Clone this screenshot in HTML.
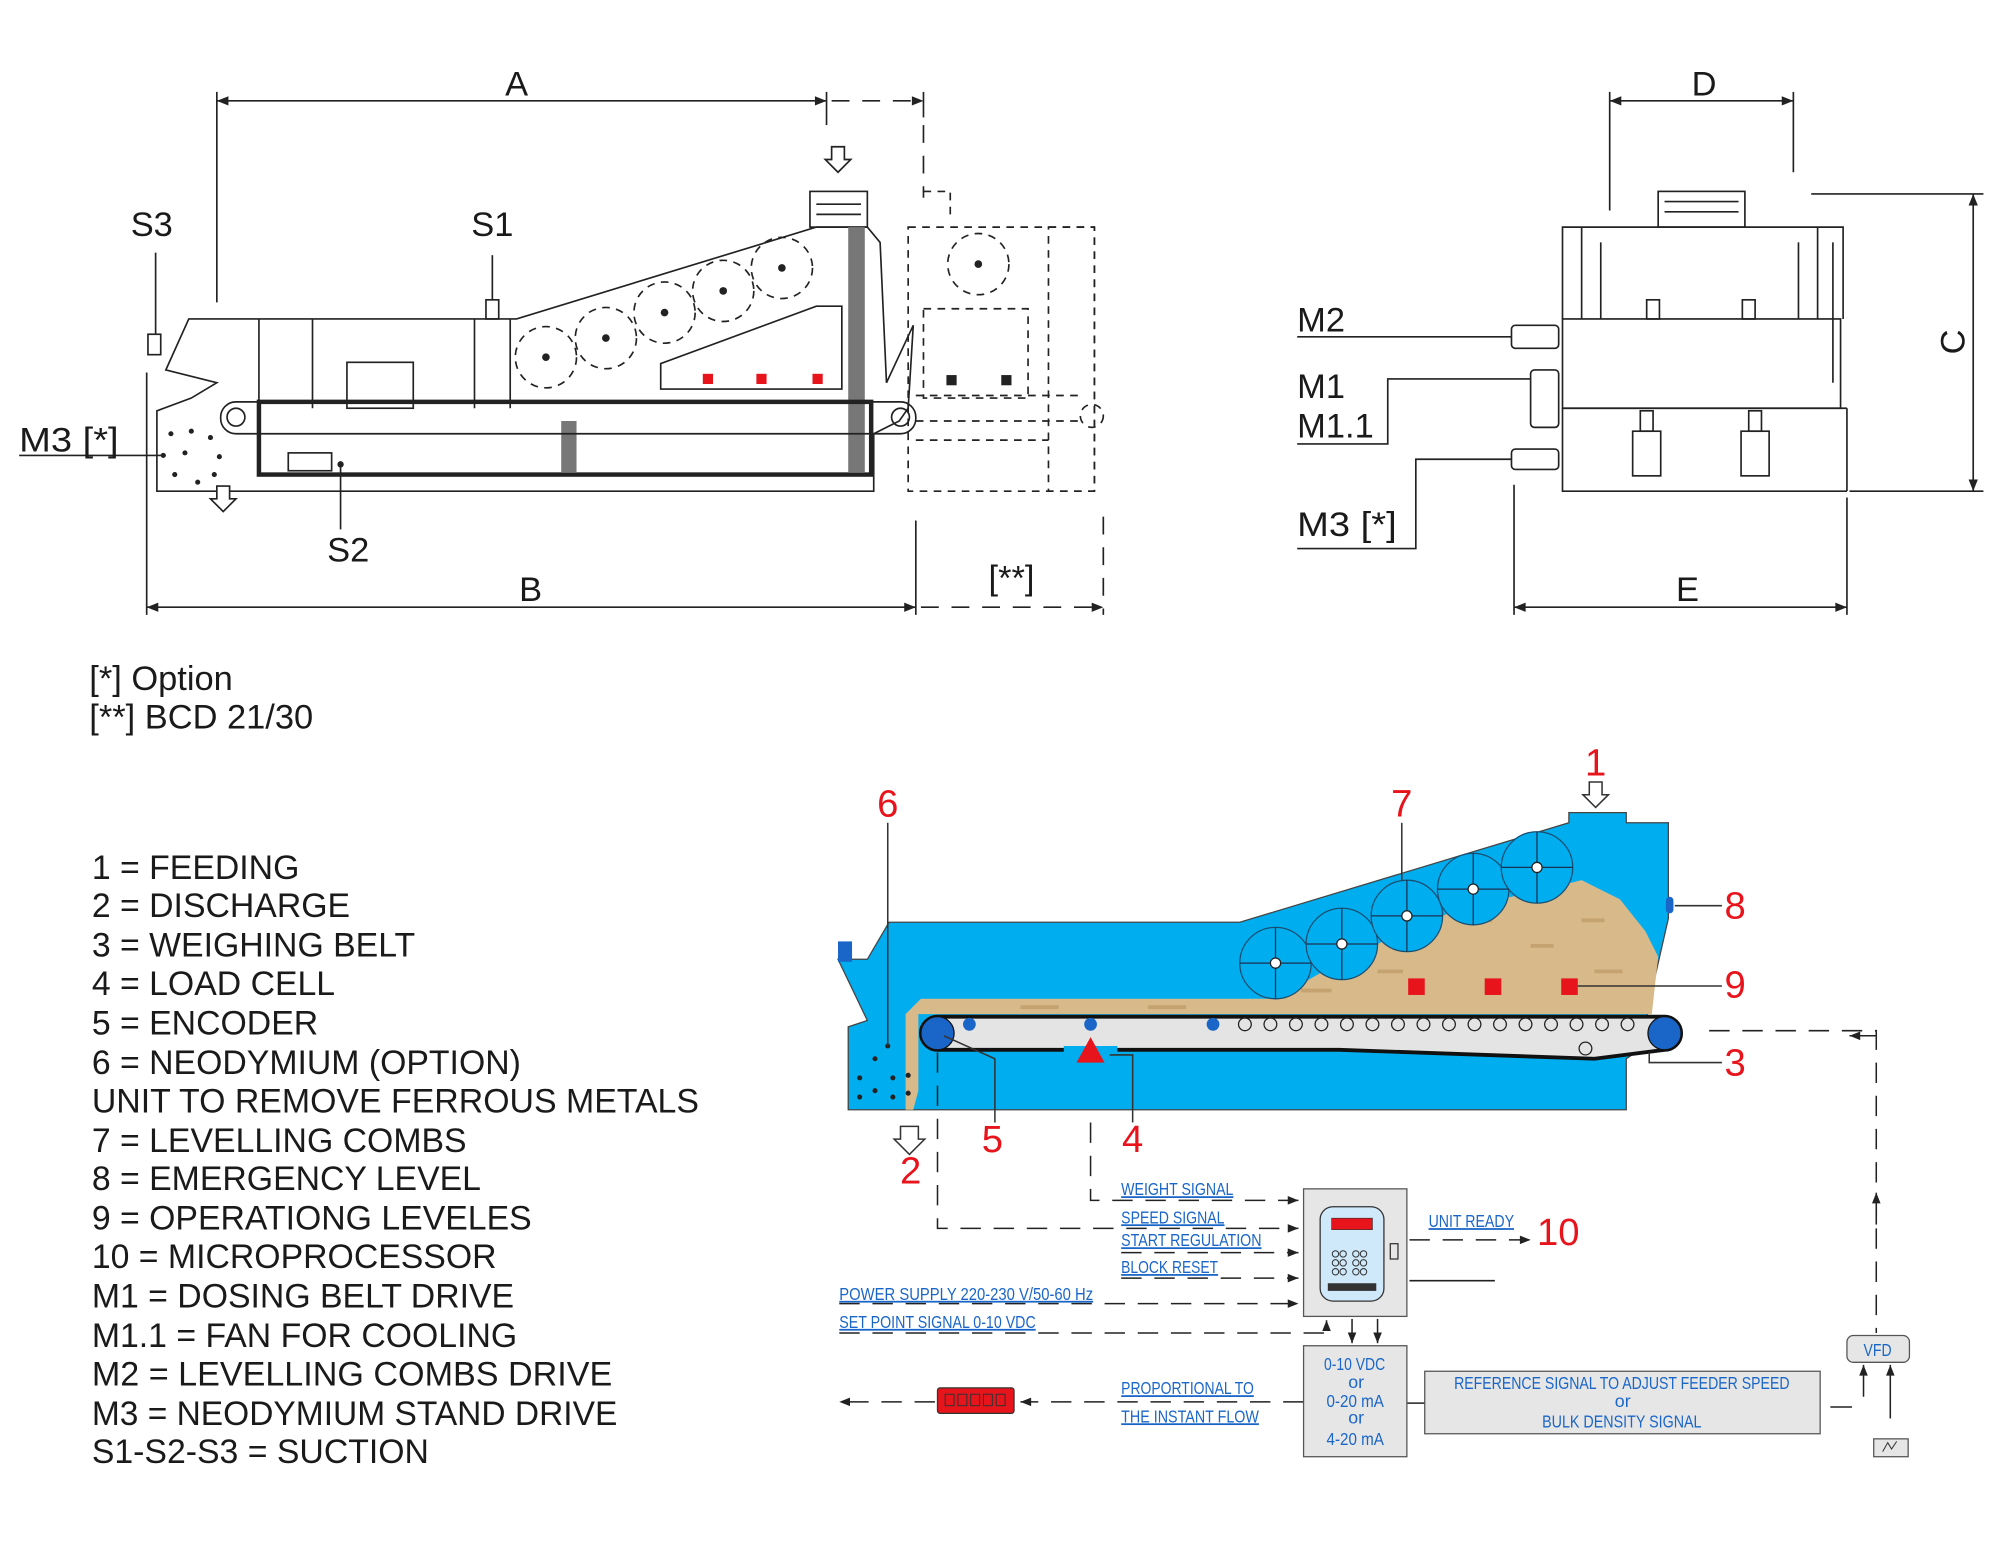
<!DOCTYPE html>
<html><head><meta charset="utf-8"><style>
html,body{margin:0;padding:0;background:#fff}
svg{display:block}
.t{font-family:"Liberation Sans",sans-serif;fill:#1a1a1a}
.b{font-family:"Liberation Sans",sans-serif;fill:#1a66c8;font-size:14px;text-decoration:underline}
.r{font-family:"Liberation Sans",sans-serif;fill:#e8141c;font-size:30px}
</style></head><body>
<svg width="2000" height="1555" viewBox="0 0 1568 1219" xmlns="http://www.w3.org/2000/svg">
<defs>
<marker id="ar" viewBox="0 0 10 10" refX="10" refY="5" markerWidth="9" markerHeight="7" orient="auto-start-reverse"><path d="M0,1 L10,5 L0,9 z" fill="#222"/></marker>
</defs>
<g stroke="#222" stroke-width="1.3" fill="none">
<line x1="170" y1="79" x2="648" y2="79" marker-start="url(#ar)" marker-end="url(#ar)"/>
<line x1="652" y1="79" x2="724" y2="79" stroke-dasharray="14 10" marker-end="url(#ar)"/>
<line x1="170" y1="72" x2="170" y2="237"/>
<line x1="648" y1="72" x2="648" y2="98"/>
<line x1="724" y1="72" x2="724" y2="92"/>
<line x1="724" y1="98" x2="724" y2="155" stroke-dasharray="14 10"/>
<line x1="115" y1="476" x2="718" y2="476" marker-start="url(#ar)" marker-end="url(#ar)"/>
<line x1="722" y1="476" x2="865" y2="476" stroke-dasharray="14 10" marker-end="url(#ar)"/>
<line x1="115" y1="292" x2="115" y2="482"/>
<line x1="718" y1="408" x2="718" y2="482"/>
<line x1="865" y1="405" x2="865" y2="482" stroke-dasharray="14 10"/>
<path d="M123,385 L123,322 L150,312 L170,300 L130,290 L148,250 L405,250 L640,178 L680,178 L690,190 L695,300 L716,255 L712,320 L705,330 L685,340 L685,385 Z"/>
<rect x="635" y="150" width="45" height="28"/>
<path d="M640,160 h35 M640,168 h35"/>
<rect x="665" y="178" width="13" height="192" fill="#777" stroke="none"/>
<rect x="440" y="330" width="12" height="40" fill="#777" stroke="none"/>
<rect x="173" y="315" width="545" height="25" rx="12"/>
<circle cx="185" cy="327" r="7"/><circle cx="706" cy="327" r="7"/>
<rect x="203" y="315" width="480" height="57" stroke-width="3.5"/>
<path d="M203,250 V320 M245,250 V320 M372,250 V320 M400,250 V320"/>
<rect x="272" y="284" width="52" height="36"/>
<rect x="226" y="355" width="34" height="14"/>
<path d="M518,305 L518,285 L640,240 L660,240 L660,305 Z"/>
<line x1="386" y1="200" x2="386" y2="235"/><rect x="381" y="235" width="10" height="15"/>
<line x1="122" y1="198" x2="122" y2="262"/><rect x="116" y="262" width="10" height="16"/>
<g stroke-dasharray="6 5">
<circle cx="428" cy="280" r="24"/><circle cx="475" cy="265" r="24"/><circle cx="521" cy="245" r="24"/><circle cx="567" cy="228" r="24"/><circle cx="613" cy="210" r="24"/>
<circle cx="767" cy="207" r="24"/>
<rect x="712" y="178" width="146" height="207"/>
<rect x="822" y="178" width="36" height="207"/>
<rect x="724" y="242" width="82" height="70"/>
<path d="M718,310 H850 M718,330 H850 M718,345 H822"/>
<circle cx="856" cy="326" r="9"/>
<path d="M724,150 H745 V170"/>
</g>
<g fill="#222" stroke="none">
<circle cx="428" cy="280" r="3"/><circle cx="475" cy="265" r="3"/><circle cx="521" cy="245" r="3"/><circle cx="567" cy="228" r="3"/><circle cx="613" cy="210" r="3"/><circle cx="767" cy="207" r="3"/>
<circle cx="134" cy="340" r="2"/><circle cx="150" cy="338" r="2"/><circle cx="165" cy="343" r="2"/><circle cx="128" cy="357" r="2"/><circle cx="145" cy="355" r="2"/><circle cx="172" cy="358" r="2"/><circle cx="137" cy="372" r="2"/><circle cx="155" cy="378" r="2"/><circle cx="168" cy="372" r="2"/>
<rect x="742" y="294" width="8" height="8"/><rect x="785" y="294" width="8" height="8"/>
<circle cx="267" cy="364" r="2.5"/>
</g>
<g fill="#e8141c" stroke="none"><rect x="551" y="293" width="8" height="8"/><rect x="593" y="293" width="8" height="8"/><rect x="637" y="293" width="8" height="8"/></g>
<path d="M15,357 H130"/><path d="M267,364 V415"/>
<path d="M170,391 v-10 h10 v10 h5 l-10,10 l-10,-10 z" fill="#fff"/>
<path d="M652,125 v-10 h10 v10 h5 l-10,10 l-10,-10 z" fill="#fff"/>
<line x1="1262" y1="79" x2="1406" y2="79" marker-start="url(#ar)" marker-end="url(#ar)"/>
<line x1="1262" y1="72" x2="1262" y2="165"/><line x1="1406" y1="72" x2="1406" y2="135"/>
<line x1="1547" y1="152" x2="1547" y2="385" marker-start="url(#ar)" marker-end="url(#ar)"/>
<line x1="1420" y1="152" x2="1555" y2="152"/><line x1="1450" y1="385" x2="1555" y2="385"/>
<line x1="1187" y1="476" x2="1448" y2="476" marker-start="url(#ar)" marker-end="url(#ar)"/>
<line x1="1187" y1="380" x2="1187" y2="482"/><line x1="1448" y1="390" x2="1448" y2="482"/>
<path d="M1225,250 V178 H1445 V250"/><path d="M1240,178 V250 M1255,190 V250 M1410,190 V250 M1425,178 V250 M1437,190 V300"/>
<rect x="1225" y="250" width="218" height="70"/>
<path d="M1225,320 V385 H1448 M1448,385 V320 M1225,320 H1448"/>
<rect x="1300" y="150" width="68" height="28"/><path d="M1305,158 h58 M1305,166 h58"/>
<rect x="1291" y="235" width="10" height="15"/><rect x="1366" y="235" width="10" height="15"/>
<rect x="1280" y="338" width="22" height="35"/><rect x="1286" y="322" width="10" height="16"/>
<rect x="1365" y="338" width="22" height="35"/><rect x="1371" y="322" width="10" height="16"/>
<rect x="1185" y="255" width="37" height="18" rx="3"/>
<rect x="1200" y="290" width="22" height="45" rx="3"/>
<rect x="1185" y="352" width="37" height="16" rx="3"/>
<path d="M1017,264 H1185"/><path d="M1017,348 H1088 V297 H1200"/><path d="M1017,430 H1110 V360 H1185"/>
</g>
<g class="t" font-size="27">
<text x="405" y="75" text-anchor="middle">A</text>
<text x="416" y="471" text-anchor="middle">B</text>
<text x="793" y="462" text-anchor="middle">[**]</text>
<text x="119" y="185" text-anchor="middle">S3</text>
<text x="386" y="185" text-anchor="middle">S1</text>
<text x="15" y="354" textLength="78" lengthAdjust="spacingAndGlyphs">M3 [*]</text>
<text x="273" y="440" text-anchor="middle">S2</text>
<text x="1336" y="75" text-anchor="middle">D</text>
<text x="1323" y="471" text-anchor="middle">E</text>
<text x="1540" y="268" text-anchor="middle" transform="rotate(-90 1540 268)">C</text>
<text x="1017" y="260">M2</text>
<text x="1017" y="312">M1</text>
<text x="1017" y="343">M1.1</text>
<text x="1017" y="420" textLength="78" lengthAdjust="spacingAndGlyphs">M3 [*]</text>
<text x="70" y="541">[*] Option</text>
<text x="70" y="571">[**] BCD 21/30</text>
</g>
<g class="t" font-size="26.5">
<text x="72" y="689">1 = FEEDING</text>
<text x="72" y="719">2 = DISCHARGE</text>
<text x="72" y="750">3 = WEIGHING BELT</text>
<text x="72" y="780">4 = LOAD CELL</text>
<text x="72" y="811">5 = ENCODER</text>
<text x="72" y="842">6 = NEODYMIUM (OPTION)</text>
<text x="72" y="872" textLength="476" lengthAdjust="spacingAndGlyphs">UNIT TO REMOVE FERROUS METALS</text>
<text x="72" y="903">7 = LEVELLING COMBS</text>
<text x="72" y="933">8 = EMERGENCY LEVEL</text>
<text x="72" y="964">9 = OPERATIONG LEVELES</text>
<text x="72" y="994">10 = MICROPROCESSOR</text>
<text x="72" y="1025">M1 = DOSING BELT DRIVE</text>
<text x="72" y="1056">M1.1 = FAN FOR COOLING</text>
<text x="72" y="1086" textLength="408" lengthAdjust="spacingAndGlyphs">M2 = LEVELLING COMBS DRIVE</text>
<text x="72" y="1117" textLength="412" lengthAdjust="spacingAndGlyphs">M3 = NEODYMIUM STAND DRIVE</text>
<text x="72" y="1147">S1-S2-S3 = SUCTION</text>
</g>
<path d="M665,870 L665,805 L680,800 L657,752 L680,752 L697,723 L972,723 L1230,645 L1230,637 L1275,637 L1275,645 L1308,645 L1308,720 L1292,790 L1290,820 L1275,830 L1275,870 Z" fill="#00aeef" stroke="#444" stroke-width="1"/>
<rect x="657" y="738" width="11" height="16" fill="#1a66c8"/>
<path d="M710,870 L710,795 L722,783 L972,783 L1000,783 L1040,760 L1090,735 L1150,710 L1200,700 L1240,690 L1270,705 L1290,730 L1300,750 L1295,795 L720,795 L720,855 L716,870 Z" fill="#d8b98a"/>
<g fill="#b89560" opacity="0.6"><rect x="1150" y="720" width="20" height="3"/><rect x="1200" y="740" width="18" height="3"/><rect x="1250" y="760" width="22" height="3"/><rect x="1080" y="760" width="20" height="3"/><rect x="800" y="788" width="30" height="3"/><rect x="900" y="788" width="30" height="3"/><rect x="1020" y="775" width="24" height="3"/><rect x="1240" y="720" width="18" height="3"/></g>
<g fill="#00aeef" stroke="#1b4f72" stroke-width="1">
<circle cx="1000" cy="755" r="28"/><circle cx="1052" cy="740" r="28"/><circle cx="1103" cy="718" r="28"/><circle cx="1155" cy="697" r="28"/><circle cx="1205" cy="680" r="28"/>
</g>
<g stroke="#1b3050" stroke-width="1" fill="none">
<path d="M1000,727 V783 M972,755 H1028 M1052,712 V768 M1024,740 H1080 M1103,690 V746 M1075,718 H1131 M1155,669 V725 M1127,697 H1183 M1205,652 V708 M1177,680 H1233"/>
</g>
<g fill="#fff" stroke="#222" stroke-width="1"><circle cx="1000" cy="755" r="4"/><circle cx="1052" cy="740" r="4"/><circle cx="1103" cy="718" r="4"/><circle cx="1155" cy="697" r="4"/><circle cx="1205" cy="680" r="4"/></g>
<g fill="#e8141c"><rect x="1104" y="767" width="13" height="13"/><rect x="1164" y="767" width="13" height="13"/><rect x="1224" y="767" width="13" height="13"/></g>
<path d="M735,797 H1305 A13,13 0 0 1 1305,823 L1250,830 L1050,823 H735 A13,13 0 0 1 735,797 Z" fill="#e4e4e4" stroke="#111" stroke-width="3"/>
<rect x="834" y="820" width="42" height="6" fill="#00aeef"/>
<path d="M855,813 L866,833 L844,833 Z" fill="#e8141c"/>
<circle cx="735" cy="810" r="13" fill="#1a66c8" stroke="#111"/><circle cx="1305" cy="810" r="13" fill="#1a66c8" stroke="#111"/>
<g fill="#1a66c8"><circle cx="760" cy="803" r="5"/><circle cx="855" cy="803" r="5"/><circle cx="951" cy="803" r="5"/></g>
<g fill="none" stroke="#222" stroke-width="1">
<circle cx="976" cy="803" r="5"/><circle cx="996" cy="803" r="5"/><circle cx="1016" cy="803" r="5"/><circle cx="1036" cy="803" r="5"/><circle cx="1056" cy="803" r="5"/><circle cx="1076" cy="803" r="5"/><circle cx="1096" cy="803" r="5"/><circle cx="1116" cy="803" r="5"/><circle cx="1136" cy="803" r="5"/><circle cx="1156" cy="803" r="5"/><circle cx="1176" cy="803" r="5"/><circle cx="1196" cy="803" r="5"/><circle cx="1216" cy="803" r="5"/><circle cx="1236" cy="803" r="5"/><circle cx="1256" cy="803" r="5"/><circle cx="1276" cy="803" r="5"/><circle cx="1243" cy="822" r="5"/>
</g>
<g fill="#222"><circle cx="674" cy="845" r="2"/><circle cx="686" cy="830" r="2"/><circle cx="700" cy="845" r="2"/><circle cx="674" cy="860" r="2"/><circle cx="700" cy="860" r="2"/><circle cx="686" cy="855" r="2"/><circle cx="712" cy="843" r="2"/><circle cx="712" cy="857" r="2"/><circle cx="696" cy="820" r="2"/></g>
<rect x="1306" y="703" width="6" height="13" rx="3" fill="#1a66c8"/>
<g stroke="#333" stroke-width="1.2" fill="none">
<path d="M696,645 V820"/><path d="M1099,645 V690"/><path d="M1313,710 H1350"/><path d="M1237,773 H1350"/>
<path d="M1293,825 V833 H1350"/><path d="M740,812 L780,830 V880"/><path d="M870,827 H888 V880"/>
<path d="M1251,613 V625"/>
<path d="M706,883 v10 h-5 l12,12 l12,-12 h-5 v-10 z" fill="#fff"/>
<path d="M1246,613 v10 h-5 l10,10 l10,-10 h-5 v-10 z" fill="#fff"/>
</g>
<g class="r">
<text x="696" y="640" text-anchor="middle">6</text>
<text x="1099" y="640" text-anchor="middle">7</text>
<text x="1251" y="608" text-anchor="middle">1</text>
<text x="1352" y="720">8</text>
<text x="1352" y="782">9</text>
<text x="1352" y="843">3</text>
<text x="778" y="903" text-anchor="middle">5</text>
<text x="888" y="903" text-anchor="middle">4</text>
<text x="714" y="928" text-anchor="middle">2</text>
<text x="1205" y="976">10</text>
</g>
<g stroke="#222" stroke-width="1.2" fill="none" stroke-dasharray="16 10">
<path d="M855,880 V941 H1018" marker-end="url(#ar)"/>
<path d="M735,825 V963 H1018" marker-end="url(#ar)"/>
<path d="M879,982 H1018" marker-end="url(#ar)"/>
<path d="M879,1002 H1018" marker-end="url(#ar)"/>
<path d="M658,1022 H1018" marker-end="url(#ar)"/>
<path d="M658,1045 H1040 V1035" marker-end="url(#ar)"/>
<path d="M1105,972 H1200" marker-end="url(#ar)"/>
<path d="M1340,808 H1471 V1045"/>
<path d="M1103,1100 H1117"/>
<path d="M1022,1099 H800" marker-end="url(#ar)"/>
<path d="M733,1099 H658" marker-end="url(#ar)"/>
</g>
<g stroke="#222" stroke-width="1.2" fill="none">
<path d="M1471,812 H1450" marker-end="url(#ar)"/>
<path d="M1471,960 V935" marker-end="url(#ar)"/>
<path d="M1105,1004 H1172"/>
<path d="M1060,1034 V1053" marker-end="url(#ar)"/><path d="M1080,1034 V1053" marker-end="url(#ar)"/>
<path d="M1435,1103 H1452"/>
<path d="M1461,1095 V1070" marker-end="url(#ar)"/><path d="M1482,1112 V1070" marker-end="url(#ar)"/>
</g>
<rect x="1022" y="932" width="81" height="100" fill="#e6e6e6" stroke="#555"/>
<rect x="1035" y="946" width="50" height="74" rx="10" fill="#cfe9fb" stroke="#333"/>
<rect x="1044" y="955" width="32" height="9" fill="#e8141c" stroke="#333" stroke-width="0.5"/>
<g fill="none" stroke="#333" stroke-width="0.8"><circle cx="1047" cy="983" r="2.5"/><circle cx="1053" cy="983" r="2.5"/><circle cx="1063" cy="983" r="2.5"/><circle cx="1069" cy="983" r="2.5"/><circle cx="1047" cy="990" r="2.5"/><circle cx="1053" cy="990" r="2.5"/><circle cx="1063" cy="990" r="2.5"/><circle cx="1069" cy="990" r="2.5"/><circle cx="1047" cy="997" r="2.5"/><circle cx="1053" cy="997" r="2.5"/><circle cx="1063" cy="997" r="2.5"/><circle cx="1069" cy="997" r="2.5"/></g>
<rect x="1041" y="1006" width="38" height="6" fill="#333"/>
<rect x="1090" y="975" width="6" height="12" fill="none" stroke="#333"/>
<rect x="1022" y="1055" width="81" height="87" fill="#e6e6e6" stroke="#555"/>
<rect x="1117" y="1075" width="310" height="49" fill="#e6e6e6" stroke="#555"/>
<rect x="1448" y="1047" width="49" height="21" rx="5" fill="#e6e6e6" stroke="#555"/>
<rect x="1469" y="1128" width="27" height="14" fill="#e6e6e6" stroke="#555"/>
<path d="M1476,1138 l4,-7 l3,5 l4,-6" stroke="#333" fill="none" stroke-width="0.8"/>
<rect x="735" y="1088" width="60" height="20" rx="2" fill="#e8141c" stroke="#333"/>
<g fill="none" stroke="#333" stroke-width="0.8"><rect x="741" y="1093" width="7" height="9"/><rect x="751" y="1093" width="7" height="9"/><rect x="761" y="1093" width="7" height="9"/><rect x="771" y="1093" width="7" height="9"/><rect x="781" y="1093" width="7" height="9"/></g>
<g class="b" lengthAdjust="spacingAndGlyphs">
<text x="879" y="937" textLength="88" lengthAdjust="spacingAndGlyphs">WEIGHT SIGNAL</text>
<text x="879" y="959" textLength="81" lengthAdjust="spacingAndGlyphs">SPEED SIGNAL</text>
<text x="879" y="977" textLength="110" lengthAdjust="spacingAndGlyphs">START REGULATION</text>
<text x="879" y="998" textLength="76" lengthAdjust="spacingAndGlyphs">BLOCK RESET</text>
<text x="658" y="1019" textLength="199" lengthAdjust="spacingAndGlyphs">POWER SUPPLY 220-230 V/50-60 Hz</text>
<text x="658" y="1041" textLength="154" lengthAdjust="spacingAndGlyphs">SET POINT SIGNAL 0-10 VDC</text>
<text x="1120" y="962" textLength="67" lengthAdjust="spacingAndGlyphs">UNIT READY</text>
<text x="879" y="1093" textLength="104" lengthAdjust="spacingAndGlyphs">PROPORTIONAL TO</text>
<text x="879" y="1115" textLength="108" lengthAdjust="spacingAndGlyphs">THE INSTANT FLOW</text>
</g>
<g class="b" style="text-decoration:none">
<text x="1038" y="1074" textLength="48" lengthAdjust="spacingAndGlyphs">0-10 VDC</text>
<text x="1057" y="1088">or</text>
<text x="1040" y="1103" textLength="45" lengthAdjust="spacingAndGlyphs">0-20 mA</text>
<text x="1057" y="1116">or</text>
<text x="1040" y="1133" textLength="45" lengthAdjust="spacingAndGlyphs">4-20 mA</text>
<text x="1140" y="1089" textLength="263" lengthAdjust="spacingAndGlyphs">REFERENCE SIGNAL TO ADJUST FEEDER SPEED</text>
<text x="1266" y="1103">or</text>
<text x="1209" y="1119" textLength="125" lengthAdjust="spacingAndGlyphs">BULK DENSITY SIGNAL</text>
<text x="1461" y="1063" textLength="22" lengthAdjust="spacingAndGlyphs">VFD</text>
</g>
</svg>
</body></html>
